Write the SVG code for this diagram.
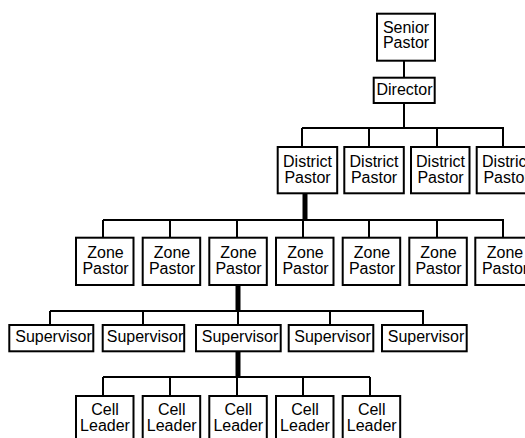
<svg xmlns="http://www.w3.org/2000/svg" width="525" height="438" viewBox="0 0 525 438">
<style>
.box{fill:#fff;stroke:#000;stroke-width:2}
.t{font-family:"Liberation Sans",Arial,sans-serif;font-size:16px;fill:#000;text-anchor:middle}
.ln{stroke:#000;stroke-width:2;fill:none}
.tk{stroke:#000;stroke-width:5;fill:none}
</style>
<rect width="525" height="438" fill="#fff"/>
<g id="connectors">
<path class="ln" d="M404 61V77M404 103V128M302 128H504M302 128V147M369 128V147M437 128V147M503 128V147"/>
<path class="tk" d="M305 194V220"/>
<path class="ln" d="M103 220H504M103 220V238M170 220V238M237 220V238M303 220V238M369 220V238M437 220V238M503 220V238"/>
<path class="tk" d="M238 285V311"/>
<path class="ln" d="M50 311H424M50 311V325M143 311V325M238 311V325M330 311V325M423 311V325"/>
<path class="tk" d="M238 351V377"/>
<path class="ln" d="M103 377H370M103 377V396M170 377V396M237 377V396M303 377V396M370 377V396"/>
</g>
<g id="senior"><rect class="box" x="377" y="13.7" width="58" height="47"/><text class="t" x="406" y="32.7">Senior</text><text class="t" x="406" y="48.3">Pastor</text></g>
<g id="director"><rect class="box" x="373.7" y="77.7" width="61" height="25.3"/><text class="t" x="404.5" y="95">Director</text></g>
<g id="district1"><rect class="box" x="277.7" y="147" width="59.5" height="46.3"/><text class="t" x="307.5" y="166.7">District</text><text class="t" x="307.5" y="182.7">Pastor</text></g>
<g id="district2"><rect class="box" x="344.3" y="147" width="59.5" height="46.3"/><text class="t" x="374" y="166.7">District</text><text class="t" x="374" y="182.7">Pastor</text></g>
<g id="district3"><rect class="box" x="411" y="147" width="58.5" height="46.3"/><text class="t" x="440.5" y="166.7">District</text><text class="t" x="440.5" y="182.7">Pastor</text></g>
<g id="district4"><rect class="box" x="476.7" y="147" width="59.5" height="46.3"/><text class="t" x="506.5" y="166.7">District</text><text class="t" x="506.5" y="182.7">Pastor</text></g>
<g id="zone1"><rect class="box" x="76" y="237.7" width="57.5" height="47.3"/><text class="t" x="105.5" y="258.3">Zone</text><text class="t" x="105.5" y="274">Pastor</text></g>
<g id="zone2"><rect class="box" x="142.7" y="237.7" width="57.5" height="47.3"/><text class="t" x="172" y="258.3">Zone</text><text class="t" x="172" y="274">Pastor</text></g>
<g id="zone3"><rect class="box" x="209.3" y="237.7" width="57.5" height="47.3"/><text class="t" x="238.5" y="258.3">Zone</text><text class="t" x="238.5" y="274">Pastor</text></g>
<g id="zone4"><rect class="box" x="276" y="237.7" width="57.5" height="47.3"/><text class="t" x="305.5" y="258.3">Zone</text><text class="t" x="305.5" y="274">Pastor</text></g>
<g id="zone5"><rect class="box" x="342.7" y="237.7" width="57.5" height="47.3"/><text class="t" x="372" y="258.3">Zone</text><text class="t" x="372" y="274">Pastor</text></g>
<g id="zone6"><rect class="box" x="409.3" y="237.7" width="57.5" height="47.3"/><text class="t" x="438.5" y="258.3">Zone</text><text class="t" x="438.5" y="274">Pastor</text></g>
<g id="zone7"><rect class="box" x="475.3" y="237.7" width="57.5" height="47.3"/><text class="t" x="505" y="258.3">Zone</text><text class="t" x="505" y="274">Pastor</text></g>
<g id="sup1"><rect class="box" x="9.3" y="325" width="84" height="26.3"/><text class="t" x="53.5" y="341.7">Supervisor</text></g>
<g id="sup2"><rect class="box" x="102.7" y="325" width="81.5" height="26.3"/><text class="t" x="145" y="341.7">Supervisor</text></g>
<g id="sup3"><rect class="box" x="196" y="325" width="84.7" height="26.3"/><text class="t" x="240" y="341.7">Supervisor</text></g>
<g id="sup4"><rect class="box" x="288.7" y="325" width="84.6" height="26.3"/><text class="t" x="332.5" y="341.7">Supervisor</text></g>
<g id="sup5"><rect class="box" x="382" y="325" width="84.7" height="26.3"/><text class="t" x="426" y="341.7">Supervisor</text></g>
<g id="cell1"><rect class="box" x="76" y="396" width="57.5" height="47"/><text class="t" x="105" y="415">Cell</text><text class="t" x="105" y="431">Leader</text></g>
<g id="cell2"><rect class="box" x="142.7" y="396" width="57.5" height="47"/><text class="t" x="171.7" y="415">Cell</text><text class="t" x="171.7" y="431">Leader</text></g>
<g id="cell3"><rect class="box" x="209.3" y="396" width="57.5" height="47"/><text class="t" x="238.3" y="415">Cell</text><text class="t" x="238.3" y="431">Leader</text></g>
<g id="cell4"><rect class="box" x="276" y="396" width="57.5" height="47"/><text class="t" x="305" y="415">Cell</text><text class="t" x="305" y="431">Leader</text></g>
<g id="cell5"><rect class="box" x="342.7" y="396" width="57.5" height="47"/><text class="t" x="371.7" y="415">Cell</text><text class="t" x="371.7" y="431">Leader</text></g>
</svg>
